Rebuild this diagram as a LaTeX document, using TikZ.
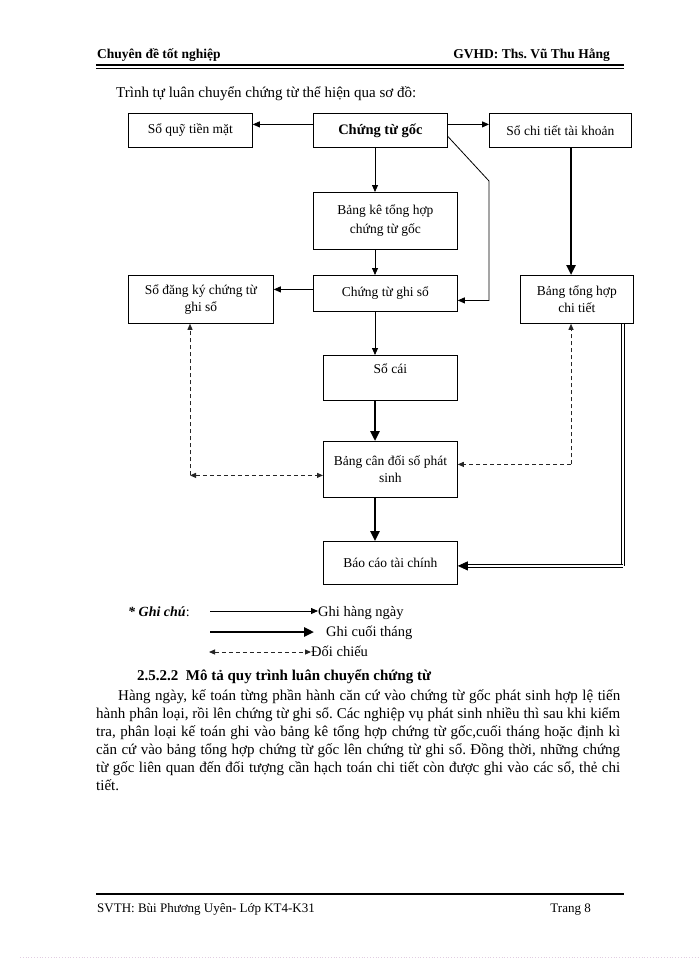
\documentclass[tikz,border=0pt]{standalone}
\usepackage{fontspec}
\setmainfont{Liberation Serif}
\usetikzlibrary{arrows.meta,calc}
\frenchspacing
\begin{document}
\begin{tikzpicture}[x=1pt,y=-1pt,
  box/.style={draw, line width=0.8pt, anchor=north west, inner sep=2pt, align=center,
    font=\fontsize{13.5}{17}\selectfont},
  thinarr/.style={line width=0.8pt, -{Triangle[length=7pt,width=6pt]}},
  thickarr/.style={line width=2.4pt, -{Triangle[length=10pt,width=9pt]}},
  wideline/.style={double, line width=0.8pt, double distance=2pt},
  cmpline/.style={line width=0.9pt, dash pattern=on 4pt off 3pt, color=black!85},
  cmparr/.style={cmpline, -{Triangle[length=6pt,width=5pt]}},
  cmpboth/.style={cmpline, {Triangle[length=6pt,width=5pt]}-{Triangle[length=6pt,width=5pt]}},
  txt/.style={anchor=base west, inner sep=0pt, font=\fontsize{15}{16}\selectfont},
  hdr/.style={anchor=base west, inner sep=0pt, font=\bfseries\fontsize{13.5}{16}\selectfont}
]
\useasboundingbox (0,0) rectangle (700,960);
\fill[white] (0,0) rectangle (700,960);

% header
\node[hdr] (h1) at (97,59) {Chuyên đề tốt nghiệp};
\node[hdr, anchor=base east] (h2) at (610,59) {GVHD: Ths. Vũ Thu Hằng};
\draw[line width=1.8pt] (96,65) -- (624,65);
\draw[line width=0.5pt] (96,67.8) -- (624,67.8);

\node[txt] (intro) at (116,98) {Trình tự luân chuyển chứng từ thể hiện qua sơ đồ:};

% boxes
\node[box, minimum width=124pt, minimum height=34pt] (quy) at (128,113) {Sổ quỹ tiền mặt};
\node[box, minimum width=134pt, minimum height=34pt, font=\bfseries\fontsize{14.5}{17}\selectfont] (goc) at (313,113) {Chứng từ gốc};
\node[box, minimum width=142pt, minimum height=34pt] (sct) at (489,113) {Sổ chi tiết tài khoản};
\node[box, minimum width=144pt, minimum height=57pt, font=\fontsize{13.5}{19}\selectfont] (bangke) at (313,192) {Bảng kê tổng hợp\\chứng từ gốc};
\node[box, minimum width=145pt, minimum height=48pt] (sdk) at (128,275) {Sổ đăng ký chứng từ\\ghi sổ};
\node[box, minimum width=144pt, minimum height=36pt] (ctgs) at (313,275) {Chứng từ ghi sổ};
\node[box, minimum width=113pt, minimum height=48pt] (bthct) at (520,275) {Bảng tổng hợp\\chi tiết};
\node[box, minimum width=134pt, minimum height=45pt] (socai) at (323,355) {Sổ cái\\[-4pt]\strut};
\node[box, minimum width=134pt, minimum height=56pt] (bcd) at (323,441) {Bảng cân đối số phát\\sinh};
\node[box, minimum width=134pt, minimum height=43pt] (bctc) at (323,541) {Báo cáo tài chính};

% axes / corners
\coordinate (ax) at (375,0);
\coordinate (rx) at (571,0);
\coordinate (lx) at (190,0);
\coordinate (dx) at (623,0);
\coordinate (d1) at (489,181);
\coordinate (ctgsR) at ([yshift=-7pt]ctgs.east);
\coordinate (ctgsL) at ([yshift=4pt]ctgs.west);
\coordinate (lc) at ([yshift=-6pt]bcd.west -| lx);
\coordinate (rc) at ([yshift=5pt]bcd.east -| rx);
\coordinate (dc) at ([yshift=-3pt]bctc.east -| dx);

% daily arrows
\draw[thinarr] ([yshift=6pt]goc.west) -- ([yshift=6pt]quy.east);
\draw[thinarr] ([yshift=6pt]goc.east) -- ([yshift=6pt]sct.west);
\draw[thinarr] (goc.south -| ax) -- (bangke.north -| ax);
\draw[thinarr] (bangke.south -| ax) -- (ctgs.north -| ax);
\draw[thinarr] ([yshift=-6pt]goc.east) -- (d1) -- (d1 |- ctgsR) -- (ctgsR);
\draw[thinarr] (ctgsL) -- (sdk.east |- ctgsL);
\draw[thinarr] (ctgs.south -| ax) -- (socai.north -| ax);

% month-end arrows
\draw[thickarr] (sct.south -| rx) -- (bthct.north -| rx);
\draw[thickarr] (socai.south -| ax) -- (bcd.north -| ax);
\draw[thickarr] (bcd.south -| ax) -- (bctc.north -| ax);
\draw[wideline] (bthct.south -| dx) -- (dc);
\draw[wideline, -{Triangle[length=10pt,width=9pt]}] (dc) -- ([yshift=-3pt]bctc.east);

% comparison
\draw[cmparr] (lc) -- (sdk.south -| lx);
\draw[cmpboth] (lc) -- ([yshift=-6pt]bcd.west);
\draw[cmparr] (rc) -- (bthct.south -| rx);
\draw[cmparr] (rc) -- ([yshift=5pt]bcd.east);

% legend
\node[txt, font=\bfseries\itshape\fontsize{14}{16}\selectfont] (gc) at (128,616) {* Ghi chú\normalfont:};
\node[txt, font=\fontsize{14.5}{16}\selectfont] (lg1) at (318,616) {Ghi hàng ngày};
\node[txt, font=\fontsize{14.5}{16}\selectfont] (lg2) at (326,636) {Ghi cuối tháng};
\node[txt, font=\fontsize{14.5}{16}\selectfont] (lg3) at (311,656) {Đối chiếu};
\coordinate (l1s) at (210,611);
\coordinate (l2s) at (210,632);
\coordinate (l3s) at (209,652);
\draw[thinarr] (l1s) -- (l1s -| lg1.west);
\draw[thickarr] (l2s) -- ([xshift=-12pt]l2s -| lg2.west);
\draw[cmpboth] (l3s) -- (l3s -| lg3.west);

% section text
\node[hdr, font=\bfseries\fontsize{15}{16}\selectfont] (sec) at (137,680) {2.5.2.2\ \ Mô tả quy trình luân chuyển chứng từ};
\node[txt] (p1) at (118,700) {\makebox[502pt][s]{Hàng ngày, kế toán từng phần hành căn cứ vào chứng từ gốc phát sinh hợp lệ tiến}};
\node[txt] (p2) at (96,718) {\makebox[524pt][s]{hành phân loại, rồi lên chứng từ ghi sổ. Các nghiệp vụ phát sinh nhiều thì sau khi kiểm}};
\node[txt] (p3) at (96,736) {\makebox[524pt][s]{tra, phân loại kế toán ghi vào bảng kê tổng hợp chứng từ gốc,cuối tháng hoặc định kì}};
\node[txt] (p4) at (96,754) {\makebox[524pt][s]{căn cứ vào bảng tổng hợp chứng từ gốc lên chứng từ ghi sổ. Đồng thời, những chứng}};
\node[txt] (p5) at (96,772) {\makebox[524pt][s]{từ gốc liên quan đến đối tượng cần hạch toán chi tiết còn được ghi vào các sổ, thẻ chi}};
\node[txt] (p6) at (96,790) {tiết.};

% footer
\draw[line width=2pt] (96,894) -- (624,894);
\node[txt, font=\fontsize{13}{16}\selectfont] (f1) at (97,912) {SVTH: Bùi Phương Uyên- Lớp KT4-K31};
\node[txt, font=\fontsize{13}{16}\selectfont, anchor=base east] (f2) at (591,912) {Trang 8};
\draw[line width=0.8pt, dotted, color={rgb,255:red,225;green,205;blue,225}] (20,957) -- (700,957);
\end{tikzpicture}
\end{document}
